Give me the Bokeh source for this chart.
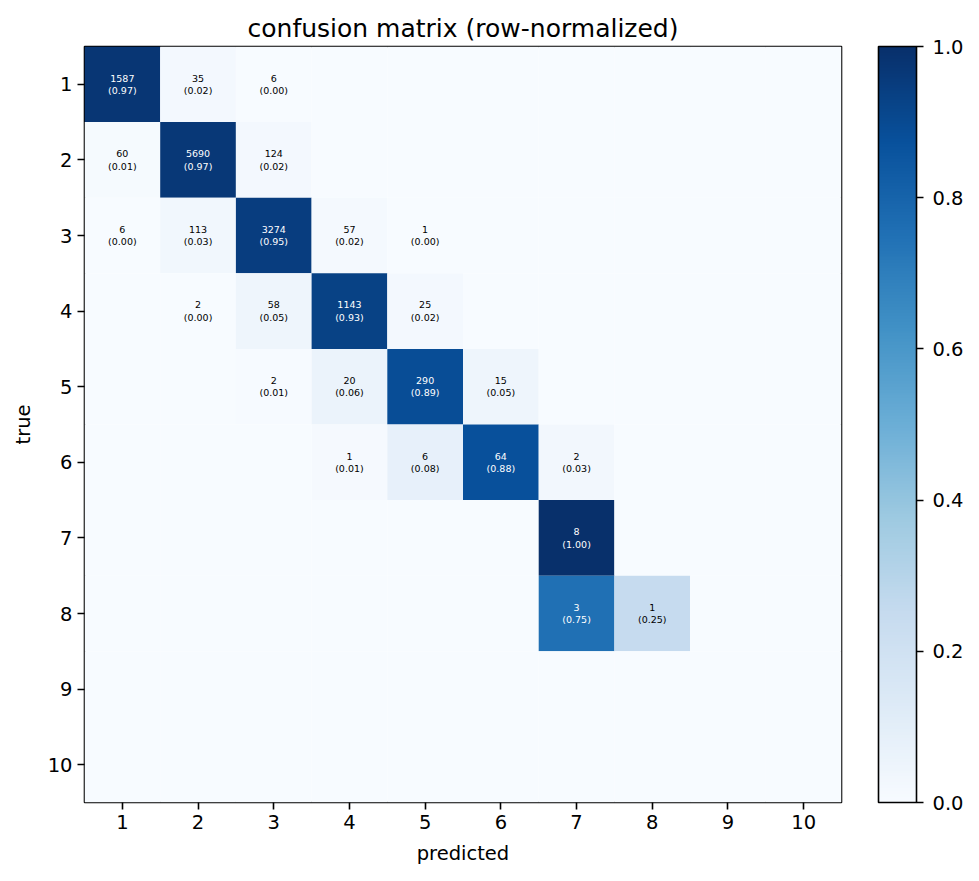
from bokeh.plotting import figure
from bokeh.models import ColumnDataSource, LinearColorMapper, ColorBar, FixedTicker, PrintfTickFormatter
from bokeh.palettes import Blues256
from bokeh.embed import file_html
from bokeh.resources import INLINE
from bokeh.core.properties import value

class_labels = ["1", "2", "3", "4", "5", "6", "7", "8", "9", "10"]

# counts[true][predicted]
row_1 = [1587, 35, 6, 0, 0, 0, 0, 0, 0, 0]
row_2 = [60, 5690, 124, 0, 0, 0, 0, 0, 0, 0]
row_3 = [6, 113, 3274, 57, 1, 0, 0, 0, 0, 0]
row_4 = [0, 2, 58, 1143, 25, 0, 0, 0, 0, 0]
row_5 = [0, 0, 2, 20, 290, 15, 0, 0, 0, 0]
row_6 = [0, 0, 0, 1, 6, 64, 2, 0, 0, 0]
row_7 = [0, 0, 0, 0, 0, 0, 8, 0, 0, 0]
row_8 = [0, 0, 0, 0, 0, 0, 3, 1, 0, 0]
row_9 = [0, 0, 0, 0, 0, 0, 0, 0, 0, 0]
row_10 = [0, 0, 0, 0, 0, 0, 0, 0, 0, 0]
counts = [row_1, row_2, row_3, row_4, row_5, row_6, row_7, row_8, row_9, row_10]

colorbar_ticks = [0.0, 0.2, 0.4, 0.6, 0.8, 1.0]

FONT = "DejaVu Sans"

xs, ys, norms, txt, tcol = [], [], [], [], []
for i, row in enumerate(counts):
    total = sum(row)
    for j, c in enumerate(row):
        n = c / total if total > 0 else 0.0
        xs.append(class_labels[j])
        ys.append(class_labels[i])
        norms.append(n)
        txt.append(f"{c}\n({n:.2f})" if c > 0 else "")
        tcol.append("white" if n > 0.5 else "black")

src = ColumnDataSource(dict(x=xs, y=ys, v=norms, t=txt, c=tcol))

palette = list(reversed(Blues256))
mapper = LinearColorMapper(palette=palette, low=0.0, high=1.0)

p = figure(
    x_range=class_labels,
    y_range=list(reversed(class_labels)),
    frame_width=757, frame_height=756,
    min_border_left=84, min_border_top=46, min_border_bottom=78, min_border_right=130,
    output_backend="svg", toolbar_location=None,
    title="confusion matrix (row-normalized)",
)
p.rect(x="x", y="y", width=1, height=1, source=src,
       fill_color={"field": "v", "transform": mapper}, line_color=None)
p.text(x="x", y="y", text="t", source=src, text_color="c",
       text_font=value(FONT), text_font_size="9.5px", text_align="center",
       text_baseline="middle", text_line_height=1.12)

p.title.align = "center"
p.title.text_font = FONT
p.title.text_font_style = "normal"
p.title.text_font_size = "25px"
p.title.text_color = "black"
p.title.standoff = 8

p.grid.visible = False
p.outline_line_color = "black"
p.outline_line_width = 1.6
p.background_fill_color = "white"

for ax in (p.xaxis[0], p.yaxis[0]):
    ax.axis_line_color = None
    ax.major_label_text_font = FONT
    ax.major_label_text_font_size = "19.5px"
    ax.major_label_text_color = "black"
    ax.major_label_standoff = 5
    ax.axis_label_text_font = FONT
    ax.axis_label_text_font_size = "19.5px"
    ax.axis_label_text_font_style = "normal"
    ax.axis_label_text_color = "black"
    ax.major_tick_line_color = "black"
    ax.major_tick_line_width = 1.6
    ax.major_tick_out = 7
    ax.major_tick_in = 0
    ax.minor_tick_line_color = None

p.xaxis.axis_label = "predicted"
p.xaxis.axis_label_standoff = 10
p.yaxis.axis_label = "true"
p.yaxis.axis_label_standoff = 10
p.yaxis.major_label_orientation = "horizontal"

cb = ColorBar(
    color_mapper=mapper,
    ticker=FixedTicker(ticks=colorbar_ticks),
    formatter=PrintfTickFormatter(format="%.1f"),
    width=38, height=756,
    padding=0, margin=0,
    location=(37, 0),
    bar_line_color="black", bar_line_width=1.6,
    major_tick_line_color="black", major_tick_line_width=1.6,
    major_tick_in=0, major_tick_out=7,
    minor_tick_line_color=None,
    label_standoff=9,
    major_label_text_font=FONT, major_label_text_font_size="19.5px",
    major_label_text_color="black",
    background_fill_alpha=0,
    border_line_color=None,
)
p.add_layout(cb, "right")

open("out.html", "w").write(file_html(p, INLINE))
